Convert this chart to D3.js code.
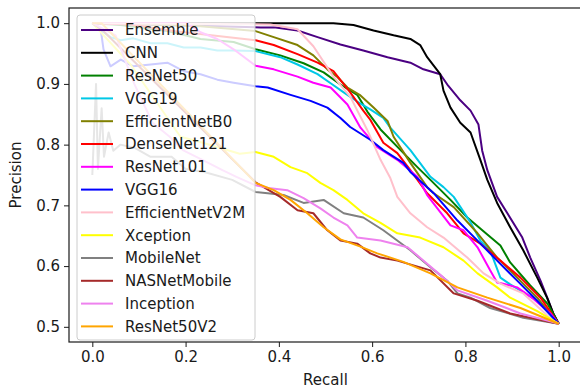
<!DOCTYPE html>
<html>
<head>
<meta charset="utf-8">
<script src="https://cdn.jsdelivr.net/npm/d3@7"></script>
<style>
  html, body { margin: 0; padding: 0; background: #fff; }
  svg { display: block; }
  text { font-family: "DejaVu Sans", sans-serif; fill: #1a1a1a; }
</style>
</head>
<body>
<script>
// ---- data (recall, precision) ----
const modelNames = ["Ensemble", "CNN", "ResNet50", "VGG19", "EfficientNetB0", "DenseNet121",
  "ResNet101", "VGG16", "EfficientNetV2M", "Xception", "MobileNet", "NASNetMobile", "Inception", "ResNet50V2"];
const modelColors = ["#4b0082", "#000000", "#008000", "#00c8e6", "#808000", "#ff0000",
  "#ff00ff", "#0000ff", "#ffc0cb", "#ffff00", "#808080", "#a52a2a", "#ee82ee", "#ffa500"];

const ensemble = [[0,1.0],[0.361,0.993],[0.393,0.993],[0.44,0.988],[0.483,0.977],[0.532,0.965],[0.581,0.955],
  [0.633,0.944],[0.682,0.935],[0.71,0.924],[0.746,0.916],[0.763,0.897],[0.789,0.873],[0.811,0.856],[0.828,0.833],
  [0.836,0.79],[0.847,0.758],[0.868,0.714],[0.89,0.687],[0.922,0.647],[0.939,0.614],[0.961,0.576],[0.978,0.543],
  [0.988,0.522],[1.0,0.505]];
const cnn = [[0,1.0],[0.517,1.0],[0.56,0.997],[0.603,0.988],[0.646,0.98],[0.682,0.974],[0.703,0.964],[0.718,0.944],
  [0.746,0.916],[0.753,0.889],[0.768,0.861],[0.789,0.836],[0.811,0.82],[0.832,0.775],[0.847,0.742],[0.868,0.704],
  [0.896,0.664],[0.924,0.626],[0.954,0.581],[0.975,0.548],[0.988,0.523],[1.0,0.505]];
const resnet50 = [[0,1.0],[0.061,0.997],[0.161,0.987],[0.232,0.974],[0.303,0.969],[0.35,0.957],[0.403,0.947],
  [0.453,0.934],[0.496,0.919],[0.532,0.899],[0.568,0.882],[0.59,0.854],[0.618,0.825],[0.661,0.791],[0.697,0.763],
  [0.725,0.742],[0.768,0.709],[0.804,0.68],[0.847,0.652],[0.875,0.634],[0.896,0.606],[0.939,0.568],[0.976,0.538],
  [1.0,0.505]];
const vgg19 = [[0,1.0],[0.015,0.99],[0.039,0.977],[0.061,0.972],[0.088,0.975],[0.125,0.967],[0.161,0.967],
  [0.196,0.96],[0.232,0.96],[0.268,0.955],[0.303,0.955],[0.35,0.954],[0.403,0.944],[0.44,0.932],[0.483,0.916],
  [0.511,0.901],[0.539,0.886],[0.568,0.871],[0.596,0.858],[0.624,0.844],[0.639,0.828],[0.682,0.791],[0.725,0.747],
  [0.753,0.73],[0.775,0.714],[0.811,0.672],[0.832,0.642],[0.853,0.626],[0.875,0.581],[0.896,0.57],[0.954,0.543],
  [1.0,0.505]];
const efficientnetB0 = [[0,1.0],[0.125,0.998],[0.232,0.995],[0.35,0.987],[0.389,0.977],[0.44,0.964],[0.474,0.947],
  [0.504,0.924],[0.526,0.911],[0.547,0.894],[0.575,0.881],[0.603,0.861],[0.633,0.839],[0.646,0.813],[0.682,0.77],
  [0.718,0.73],[0.732,0.72],[0.775,0.697],[0.826,0.654],[0.868,0.614],[0.911,0.581],[0.954,0.548],[1.0,0.505]];
const densenet121 = [[0,1.0],[0.082,0.998],[0.174,0.987],[0.35,0.972],[0.389,0.964],[0.44,0.949],[0.483,0.935],
  [0.517,0.921],[0.553,0.886],[0.581,0.856],[0.596,0.841],[0.624,0.803],[0.654,0.786],[0.682,0.758],[0.718,0.72],
  [0.761,0.687],[0.796,0.654],[0.832,0.637],[0.875,0.609],[0.918,0.581],[0.961,0.548],[1.0,0.505]];
const resnet101 = [[0,1.0],[0.204,1.0],[0.232,0.985],[0.268,0.974],[0.303,0.957],[0.35,0.93],[0.389,0.924],
  [0.44,0.912],[0.474,0.902],[0.511,0.894],[0.547,0.866],[0.575,0.828],[0.611,0.796],[0.654,0.775],[0.697,0.747],
  [0.718,0.717],[0.768,0.667],[0.796,0.659],[0.826,0.631],[0.853,0.593],[0.868,0.573],[0.881,0.571],[0.911,0.565],
  [0.946,0.546],[0.982,0.522],[1.0,0.505]];
const vgg16 = [[0,1.0],[0.018,0.99],[0.024,0.957],[0.039,0.929],[0.061,0.94],[0.088,0.929],[0.125,0.932],
  [0.161,0.935],[0.196,0.921],[0.232,0.916],[0.268,0.907],[0.303,0.902],[0.35,0.896],[0.376,0.894],[0.425,0.882],
  [0.468,0.872],[0.504,0.861],[0.532,0.844],[0.553,0.829],[0.596,0.808],[0.624,0.791],[0.667,0.77],[0.682,0.755],
  [0.732,0.72],[0.783,0.675],[0.826,0.642],[0.868,0.609],[0.911,0.576],[0.954,0.543],[1.0,0.505]];
const efficientnetV2M = [[0,1.0],[0.382,0.998],[0.44,0.99],[0.474,0.962],[0.517,0.912],[0.553,0.879],[0.589,0.825],
  [0.618,0.775],[0.639,0.745],[0.654,0.714],[0.682,0.687],[0.718,0.664],[0.753,0.647],[0.804,0.614],[0.839,0.588],
  [0.875,0.571],[0.924,0.555],[0.988,0.51],[1.0,0.505]];
const xception = [[0,1.0],[0.082,0.932],[0.189,0.813],[0.224,0.806],[0.316,0.785],[0.35,0.788],[0.389,0.78],
  [0.425,0.763],[0.461,0.753],[0.489,0.737],[0.517,0.725],[0.547,0.709],[0.581,0.687],[0.618,0.671],[0.654,0.654],
  [0.703,0.647],[0.753,0.631],[0.796,0.609],[0.826,0.588],[0.868,0.565],[0.896,0.548],[0.954,0.526],[1.0,0.505]];
const mobilenet = [[0,0.75],[0.008,0.9],[0.012,0.76],[0.02,0.86],[0.025,0.78],[0.035,0.82],[0.045,0.79],
  [0.06,0.8],[0.09,0.795],[0.125,0.78],[0.17,0.78],[0.2,0.76],[0.24,0.755],[0.3,0.742],[0.35,0.722],[0.376,0.72],
  [0.41,0.717],[0.453,0.704],[0.496,0.709],[0.539,0.687],[0.581,0.68],[0.624,0.659],[0.682,0.626],[0.725,0.598],
  [0.761,0.576],[0.783,0.555],[0.811,0.548],[0.853,0.531],[0.924,0.515],[1.0,0.505]];
const nasnetMobile = [[0,1.0],[0.02,0.99],[0.35,0.738],[0.403,0.714],[0.44,0.692],[0.474,0.687],[0.504,0.659],
  [0.532,0.642],[0.568,0.637],[0.596,0.621],[0.618,0.614],[0.654,0.609],[0.725,0.593],[0.775,0.555],[0.826,0.543],
  [0.896,0.522],[1.0,0.505]];
const inception = [[0,1.0],[0.05,0.98],[0.09,0.9],[0.129,0.836],[0.166,0.813],[0.194,0.791],[0.236,0.775],
  [0.279,0.758],[0.309,0.747],[0.35,0.733],[0.382,0.728],[0.418,0.725],[0.453,0.712],[0.489,0.695],[0.517,0.68],
  [0.547,0.667],[0.568,0.647],[0.618,0.642],[0.676,0.631],[0.718,0.604],[0.753,0.581],[0.783,0.56],[0.847,0.543],
  [0.918,0.522],[0.988,0.508],[1.0,0.505]];
const resnet50V2 = [[0,1.0],[0.02,1.0],[0.35,0.737],[0.389,0.725],[0.425,0.709],[0.461,0.687],[0.496,0.664],
  [0.532,0.644],[0.575,0.632],[0.611,0.621],[0.667,0.607],[0.725,0.588],[0.783,0.565],[0.847,0.548],[0.918,0.531],
  [1.0,0.505]];

const seriesValues = [ensemble, cnn, resnet50, vgg19, efficientnetB0, densenet121, resnet101, vgg16,
  efficientnetV2M, xception, mobilenet, nasnetMobile, inception, resnet50V2];
const xTickValues = [0.0, 0.2, 0.4, 0.6, 0.8, 1.0];
const yTickValues = [0.5, 0.6, 0.7, 0.8, 0.9, 1.0];
const xLabel = "Recall", yLabel = "Precision";

// ---- layout ----
const W = 580, H = 388;
const L = 69, R = 582, T = 8, B = 342;
const FS = 15;

const svg = d3.select("body").append("svg").attr("width", W).attr("height", H);

const x = d3.scaleLinear().domain([-0.05, 1.05]).range([L, R]);
const y = d3.scaleLinear().domain([0.475, 1.025]).range([B, T]);

svg.append("defs").append("clipPath").attr("id", "clip")
  .append("rect").attr("x", L).attr("y", T).attr("width", R - L).attr("height", B - T);

const line = d3.line().x(d => x(d[0])).y(d => y(d[1]));

svg.append("g").attr("clip-path", "url(#clip)")
  .selectAll("path").data(seriesValues).join("path")
  .attr("d", line)
  .attr("fill", "none")
  .attr("stroke", (d, i) => modelColors[i])
  .attr("stroke-width", 2)
  .attr("stroke-linejoin", "round");

// axes
const xAxis = svg.append("g").attr("transform", `translate(0,${B})`)
  .call(d3.axisBottom(x).tickValues(xTickValues).tickFormat(d3.format(".1f")).tickSize(5).tickPadding(4));
const yAxis = svg.append("g").attr("transform", `translate(${L},0)`)
  .call(d3.axisLeft(y).tickValues(yTickValues).tickFormat(d3.format(".1f")).tickSize(5).tickPadding(4));
[xAxis, yAxis].forEach(a => {
  a.select(".domain").remove();
  a.selectAll(".tick line").attr("stroke", "#1a1a1a").attr("stroke-width", 1);
  a.selectAll(".tick text").attr("font-size", FS).attr("font-family", "DejaVu Sans").attr("fill", "#1a1a1a");
});

// spines
svg.append("rect").attr("x", L).attr("y", T).attr("width", R - L).attr("height", B - T)
  .attr("fill", "none").attr("stroke", "#1a1a1a").attr("stroke-width", 1.2);

// axis labels
svg.append("text").attr("x", (L + R) / 2).attr("y", 385).attr("text-anchor", "middle")
  .attr("font-size", FS).text(xLabel);
svg.append("text").attr("transform", `translate(21,${(T + B) / 2}) rotate(-90)`)
  .attr("text-anchor", "middle").attr("font-size", FS).text(yLabel);

// legend
const lg = svg.append("g");
lg.append("rect").attr("x", 77).attr("y", 15).attr("width", 178).attr("height", 325)
  .attr("rx", 3).attr("fill", "#fff").attr("fill-opacity", 0.8)
  .attr("stroke", "#cccccc").attr("stroke-width", 1);
const rowY = i => 30 + i * 22.8;
const items = lg.selectAll("g.item").data(modelNames).join("g").attr("class", "item");
items.append("line")
  .attr("x1", 81).attr("x2", 113)
  .attr("y1", (d, i) => rowY(i)).attr("y2", (d, i) => rowY(i))
  .attr("stroke", (d, i) => modelColors[i]).attr("stroke-width", 2);
items.append("text")
  .attr("x", 125).attr("y", (d, i) => rowY(i)).attr("dy", "0.36em")
  .attr("font-size", FS).text(d => d);
</script>
</body>
</html>
